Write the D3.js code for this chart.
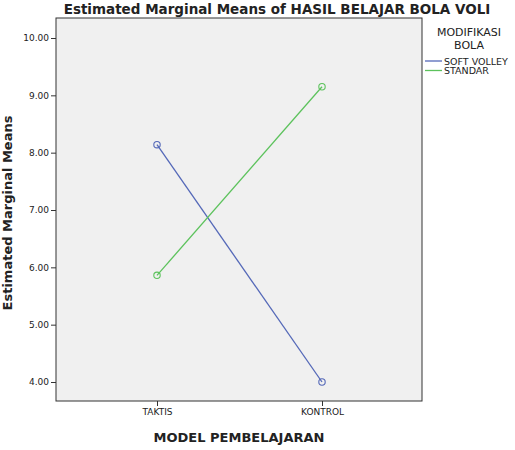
<!DOCTYPE html>
<html>
<head>
<meta charset="utf-8">
<script src="https://cdn.jsdelivr.net/npm/d3@7"></script>
<style>
  body { margin: 0; background: #fff; }
  text { font-family: "DejaVu Sans", sans-serif; fill: #222; }
</style>
</head>
<body>
<div id="chart"></div>
<script>
// data
const categories = ["TAKTIS", "KONTROL"];
const seriesNames = ["SOFT VOLLEY", "STANDAR"];
const softVolley = [8.14, 4.00];
const standar = [5.86, 9.15];
const yTicks = [4, 5, 6, 7, 8, 9, 10];

const W = 515, H = 450;
const plot = { left: 56, right: 422, top: 18, bottom: 401 };
const colors = ["#5468b8", "#5cc25c"];

var svg = d3.select("#chart").append("svg")
    .attr("width", W).attr("height", H);

var x = d3.scalePoint().domain(categories)
    .range([157, 322]);
var y = d3.scaleLinear().domain([4, 10]).range([382, 38]);

// plot background + frame
svg.append("rect")
    .attr("x", plot.left).attr("y", plot.top)
    .attr("width", plot.right - plot.left).attr("height", plot.bottom - plot.top)
    .attr("fill", "#f0f0f0").attr("stroke", "#333").attr("stroke-width", 1);

// axes
var yAxis = svg.append("g")
    .attr("transform", "translate(" + plot.left + ",0)")
    .call(d3.axisLeft(y).tickValues(yTicks).tickFormat(d3.format(".2f")).tickSize(5).tickPadding(2));
var xAxis = svg.append("g")
    .attr("transform", "translate(0," + plot.bottom + ")")
    .call(d3.axisBottom(x).tickSize(5).tickPadding(3));
[yAxis, xAxis].forEach(function(g){
    g.select(".domain").remove();
    g.selectAll("line").attr("stroke", "#333");
    g.selectAll("text").style("font-size", "9px").attr("fill", "#333");
});

// lines + markers
var series = [softVolley, standar];
var line = d3.line().x(function(d, i){ return x(categories[i]); }).y(function(d){ return y(d); });
series.forEach(function(vals, s){
    svg.append("path").datum(vals)
        .attr("d", line).attr("fill", "none")
        .attr("stroke", colors[s]).attr("stroke-width", 1.3);
    svg.selectAll(".pt" + s).data(vals).enter().append("circle")
        .attr("cx", function(d, i){ return x(categories[i]); })
        .attr("cy", function(d){ return y(d); })
        .attr("r", 3.2).attr("fill", "none")
        .attr("stroke", colors[s]).attr("stroke-width", 1.1);
});

// titles
svg.append("text").attr("x", 277).attr("y", 14).attr("text-anchor", "middle")
    .style("font-size", "13.5px").style("font-weight", "bold")
    .text("Estimated Marginal Means of HASIL BELAJAR BOLA VOLI");
svg.append("text").attr("x", 239).attr("y", 442).attr("text-anchor", "middle")
    .style("font-size", "13px").style("font-weight", "bold")
    .text("MODEL PEMBELAJARAN");
svg.append("text").attr("transform", "translate(12,213) rotate(-90)")
    .attr("text-anchor", "middle")
    .style("font-size", "13px").style("font-weight", "bold")
    .text("Estimated Marginal Means");

// legend
var lg = svg.append("g");
lg.append("text").attr("x", 469).attr("y", 36).attr("text-anchor", "middle")
    .style("font-size", "11px").text("MODIFIKASI");
lg.append("text").attr("x", 469).attr("y", 49).attr("text-anchor", "middle")
    .style("font-size", "11px").text("BOLA");
seriesNames.forEach(function(n, i){
    var yy = 61 + i * 9.5;
    lg.append("line").attr("x1", 425).attr("x2", 442).attr("y1", yy).attr("y2", yy)
        .attr("stroke", colors[i]).attr("stroke-width", 1.3);
    lg.append("text").attr("x", 444).attr("y", yy + 3.5)
        .style("font-size", "9.5px").text(n);
});
</script>
</body>
</html>
